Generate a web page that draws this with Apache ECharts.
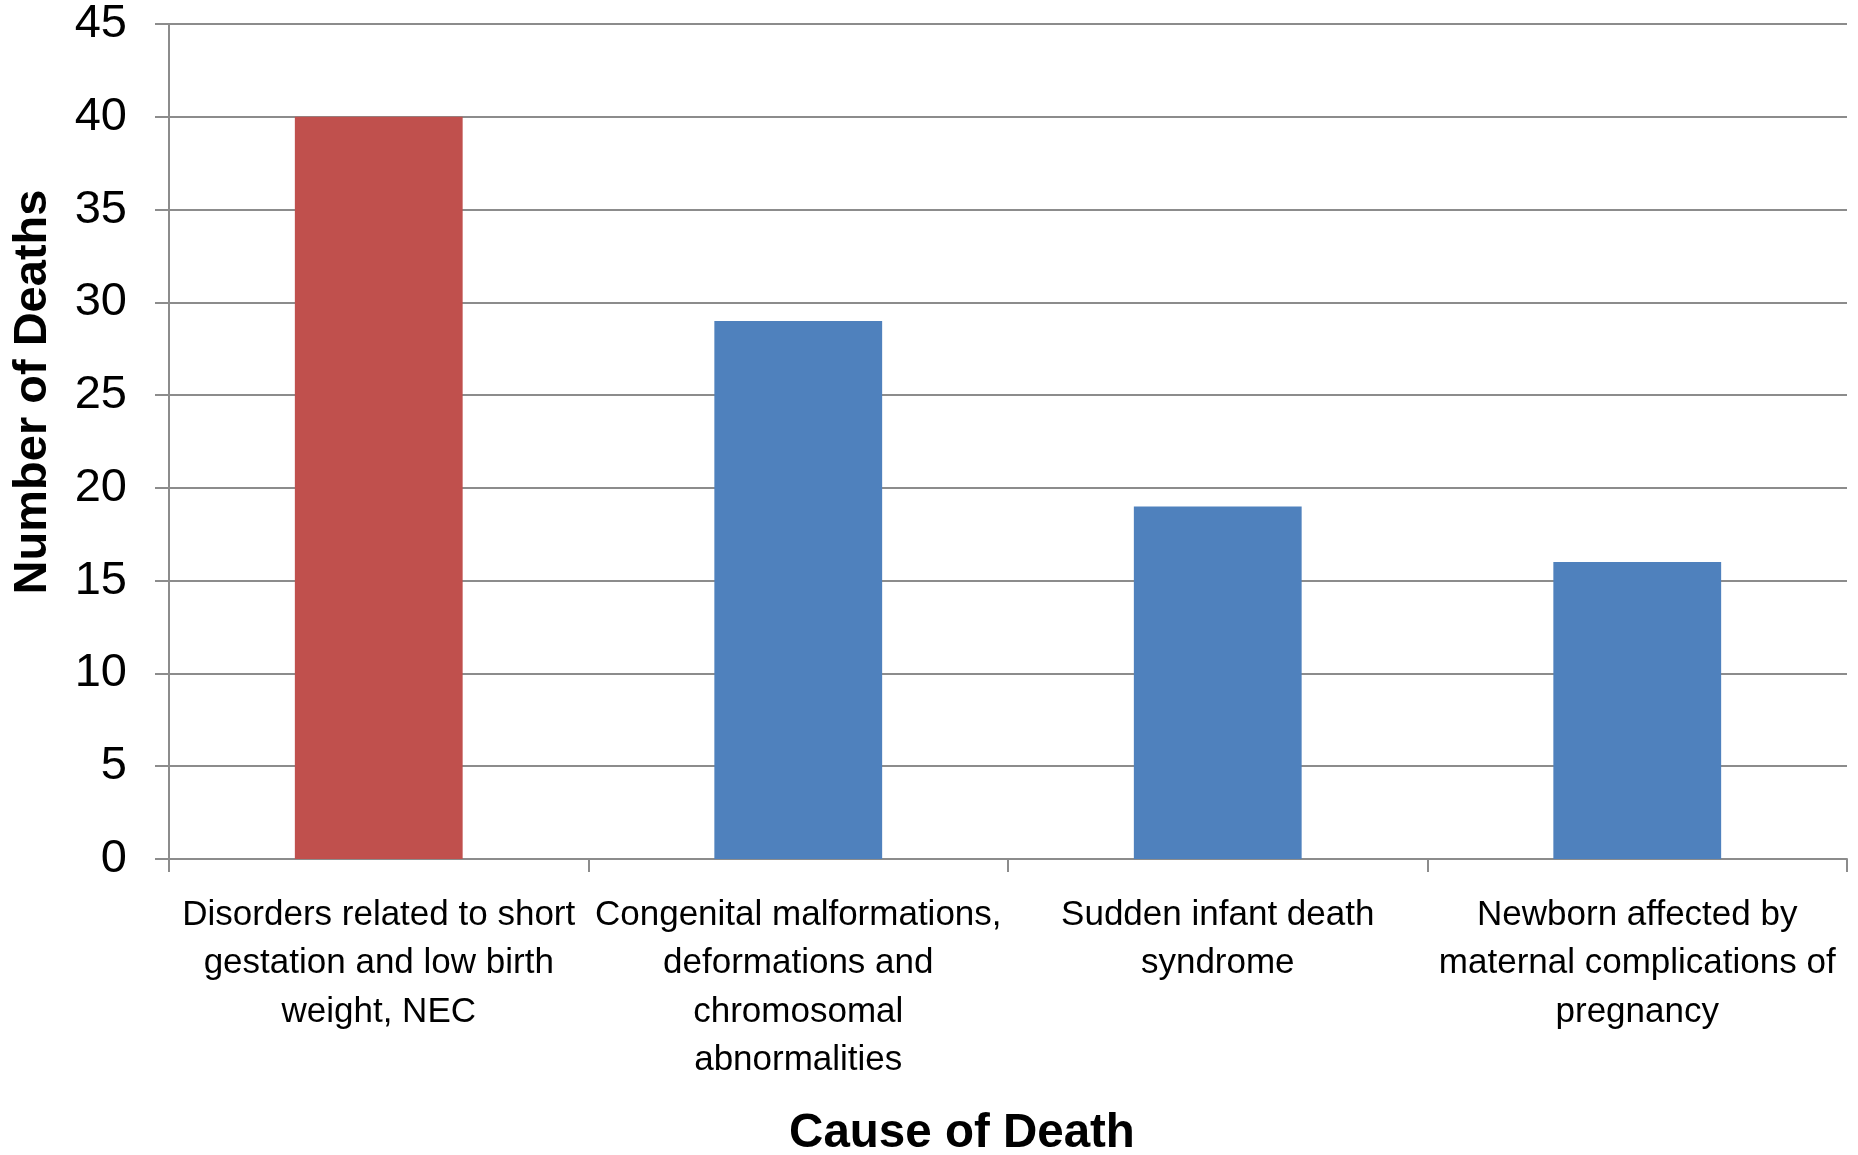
<!DOCTYPE html>
<html>
<head>
<meta charset="utf-8">
<script src="https://cdn.jsdelivr.net/npm/echarts@6/dist/echarts.min.js"></script>
<style>
html,body{margin:0;padding:0;background:#fff;}
#chart{width:1858px;height:1155px;}
</style>
</head>
<body>
<div id="chart"></div>
<script>
const categories = [
  "Disorders related to short\ngestation and low birth\nweight, NEC",
  "Congenital malformations,\ndeformations and\nchromosomal\nabnormalities",
  "Sudden infant death\nsyndrome",
  "Newborn affected by\nmaternal complications of\npregnancy"
];
const deaths = [40, 29, 19, 16];
const barColors = ["#C0504D", "#4F81BD", "#4F81BD", "#4F81BD"];
const yTicks = { min: 0, max: 45, interval: 5 };
const xTitle = "Cause of Death";
const yTitle = "Number of Deaths";

const chart = echarts.init(document.getElementById('chart'));
const gridCol = '#8c8c8c';
chart.setOption({
  animation: false,
  backgroundColor: '#ffffff',
  grid: { left: 169, right: 11, top: 24, bottom: 296, containLabel: false },
  xAxis: {
    type: 'category',
    data: categories,
    axisLine: { lineStyle: { color: gridCol, width: 2 } },
    axisTick: { show: true, length: 13, lineStyle: { color: gridCol, width: 2 } },
    axisLabel: {
      interval: 0,
      margin: 32,
      color: '#000',
      fontFamily: "'Liberation Sans',Arial,sans-serif",
      fontSize: 35,
      lineHeight: 48.5,
      align: 'center'
    }
  },
  yAxis: {
    type: 'value',
    min: yTicks.min, max: yTicks.max, interval: yTicks.interval,
    axisLine: { show: true, lineStyle: { color: gridCol, width: 2 } },
    axisTick: { show: true, length: 14, lineStyle: { color: gridCol, width: 2 } },
    splitLine: { show: true, lineStyle: { color: gridCol, width: 2 } },
    axisLabel: {
      margin: 42,
      color: '#000',
      fontFamily: "'Liberation Sans',Arial,sans-serif",
      fontSize: 47
    }
  },
  series: [{
    type: 'bar',
    data: deaths.map((v, i) => ({ value: v, itemStyle: { color: barColors[i] } })),
    barWidth: '40%'
  }],
  graphic: [
    {
      type: 'text',
      x: 962, y: 1134,
      style: {
        text: xTitle,
        font: "bold 47.5px 'Liberation Sans', Arial, sans-serif",
        fill: '#000',
        align: 'center',
        verticalAlign: 'middle'
      }
    },
    {
      type: 'text',
      x: 33, y: 392,
      rotation: Math.PI / 2,
      style: {
        text: yTitle,
        font: "bold 47px 'Liberation Sans', Arial, sans-serif",
        fill: '#000',
        align: 'center',
        verticalAlign: 'middle'
      }
    }
  ]
});
</script>
</body>
</html>
